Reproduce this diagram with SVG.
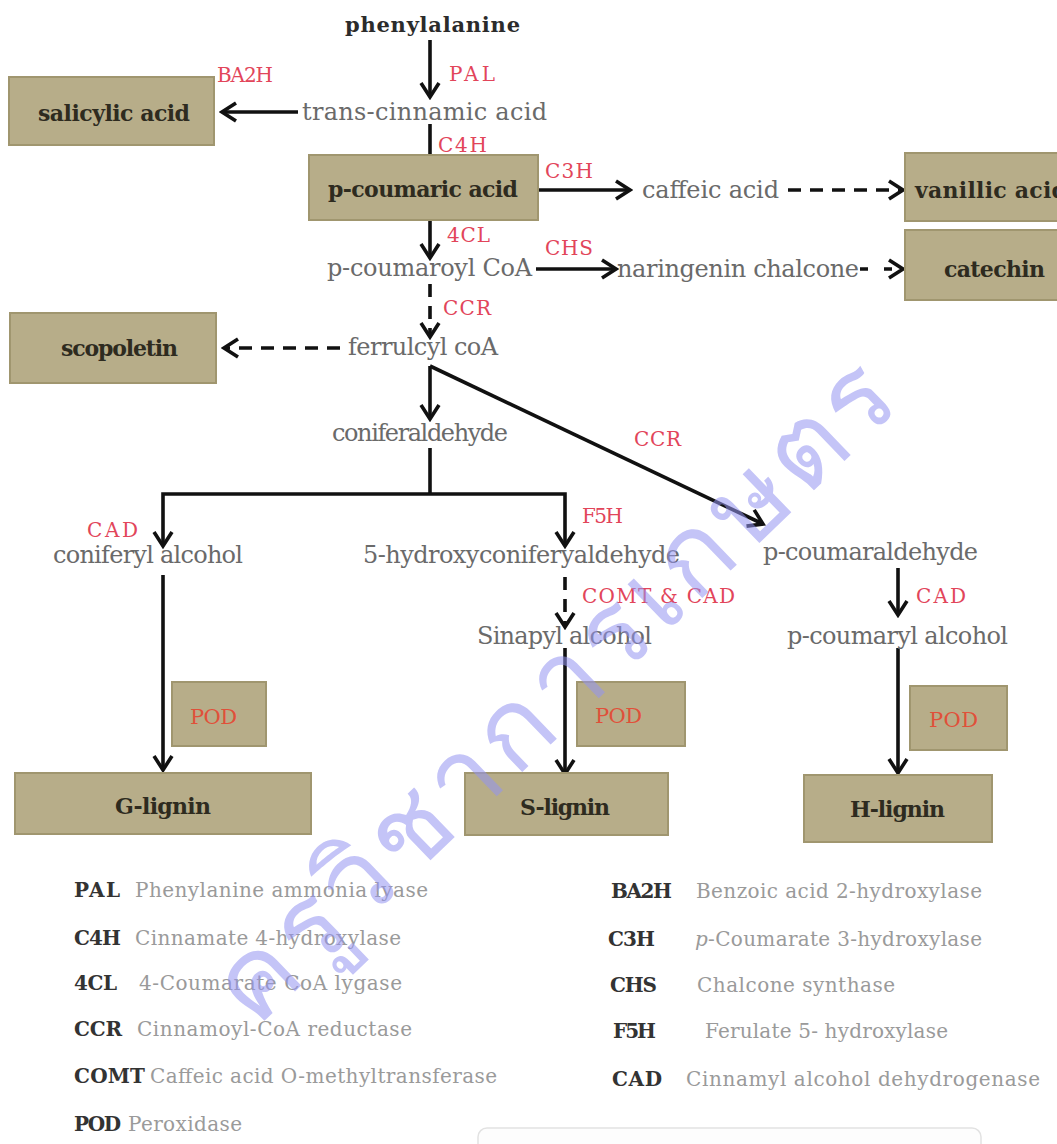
<svg xmlns="http://www.w3.org/2000/svg" width="1057" height="1144" viewBox="0 0 1057 1144">
<defs>
<style>
text{font-family:"DejaVu Serif","Liberation Serif",serif}
.box{fill:#b7ad89;stroke:#a0966f;stroke-width:2}
.bl{font-size:22px;font-weight:bold;fill:#2e2b1f}
.met{font-size:24px;fill:#6a6a6a}
.top{font-size:21px;font-weight:bold;fill:#2b2b2b}
.enz{font-size:20px;fill:#e2455a}
.pod{font-size:21px;fill:#e0503a}
.la{font-size:20px;font-weight:bold;fill:#333}
.ld{font-size:20px;fill:#9a9a9a}
.ln{stroke:#111;stroke-width:3.6;fill:none}
.ar{marker-end:url(#ah)}
.da{stroke-dasharray:13 9}
</style>
<marker id="ah" viewBox="0 0 20 22" refX="17" refY="11" markerWidth="20" markerHeight="22" markerUnits="userSpaceOnUse" orient="auto">
<path d="M3,2 L17,11 L3,20" fill="none" stroke="#111" stroke-width="3.6"/>
</marker>
</defs>
<rect width="1057" height="1144" fill="#fff"/>

<g id="connectors">
<line class="ln ar" x1="430" y1="40" x2="430" y2="97"/>
<line class="ln ar" x1="298" y1="112" x2="222" y2="112"/>
<line class="ln ar" x1="430" y1="124" x2="430" y2="174"/>
<line class="ln ar" x1="522" y1="190" x2="630" y2="190"/>
<line class="ln ar da" x1="788" y1="190" x2="903" y2="190"/>
<line class="ln ar" x1="430" y1="220" x2="430" y2="258"/>
<line class="ln ar" x1="536" y1="269" x2="616" y2="269"/>
<line class="ln ar" x1="860" y1="269" x2="903" y2="269" style="stroke-dasharray:8 16"/>
<line class="ln ar da" x1="430" y1="284" x2="430" y2="337"/>
<line class="ln ar da" x1="340" y1="348" x2="224" y2="348"/>
<line class="ln ar" x1="430" y1="366" x2="430" y2="419"/>
<line class="ln ar" x1="430" y1="366" x2="763" y2="524"/>
<polyline class="ln" points="430,448 430,494"/>
<polyline class="ln ar" points="430,494 163,494 163,546"/>
<polyline class="ln ar" points="430,494 565,494 565,546"/>
<line class="ln ar da" x1="565" y1="577" x2="565" y2="627"/>
<line class="ln ar" x1="898" y1="568" x2="898" y2="615"/>
<line class="ln ar" x1="163" y1="575" x2="163" y2="770"/>
<line class="ln ar" x1="565" y1="648" x2="565" y2="774"/>
<line class="ln ar" x1="898" y1="648" x2="898" y2="773"/>
</g>

<g id="n-phenylalanine"><text class="top" x="345" y="32" textLength="175">phenylalanine</text></g>
<g id="e-pal"><text class="enz" x="449" y="81" textLength="46">PAL</text></g>
<g id="n-trans-cinnamic"><text class="met" x="302" y="120" textLength="245">trans-cinnamic acid</text></g>
<g id="e-ba2h"><text class="enz" x="217" y="82" textLength="56">BA2H</text></g>
<g id="n-salicylic"><rect class="box" x="9" y="77" width="205" height="68"/><text class="bl" x="38" y="121" textLength="152">salicylic acid</text></g>
<g id="e-c4h"><text class="enz" x="438" y="152" textLength="49">C4H</text></g>
<g id="n-p-coumaric"><rect class="box" x="309" y="155" width="229" height="65"/><text class="bl" x="328" y="197" textLength="190">p-coumaric acid</text></g>
<g id="e-c3h"><text class="enz" x="545" y="178" textLength="48">C3H</text></g>
<g id="n-caffeic"><text class="met" x="642" y="198" textLength="137">caffeic acid</text></g>
<g id="n-vanillic"><rect class="box" x="905" y="153" width="170" height="68"/><text class="bl" x="915" y="198" textLength="152">vanillic acid</text></g>
<g id="e-4cl"><text class="enz" x="447" y="242" textLength="43">4CL</text></g>
<g id="n-p-coumaroyl"><text class="met" x="327" y="276" textLength="205">p-coumaroyl CoA</text></g>
<g id="e-chs"><text class="enz" x="545" y="255" textLength="48">CHS</text></g>
<g id="n-naringenin"><text class="met" x="617" y="277" textLength="242">naringenin chalcone</text></g>
<g id="n-catechin"><rect class="box" x="905" y="230" width="170" height="70"/><text class="bl" x="944" y="277" textLength="101">catechin</text></g>
<g id="e-ccr1"><text class="enz" x="443" y="315" textLength="48">CCR</text></g>
<g id="n-scopoletin"><rect class="box" x="10" y="313" width="206" height="70"/><text class="bl" x="61" y="356" textLength="117">scopoletin</text></g>
<g id="n-ferrulcyl"><text class="met" x="348" y="355" textLength="150">ferrulcyl coA</text></g>
<g id="n-coniferaldehyde"><text class="met" x="332" y="441" textLength="176">coniferaldehyde</text></g>
<g id="e-ccr2"><text class="enz" x="634" y="446" textLength="47">CCR</text></g>
<g id="e-cad1"><text class="enz" x="87" y="537" textLength="51">CAD</text></g>
<g id="n-coniferyl-alcohol"><text class="met" x="53" y="563" textLength="190">coniferyl alcohol</text></g>
<g id="e-f5h"><text class="enz" x="582" y="523" textLength="41">F5H</text></g>
<g id="n-5-hydroxy"><text class="met" x="363" y="563" textLength="317">5-hydroxyconiferyaldehyde</text></g>
<g id="n-p-coumaraldehyde"><text class="met" x="763" y="560" textLength="215">p-coumaraldehyde</text></g>
<g id="e-comt-cad"><text class="enz" x="582" y="603" textLength="153">COMT &amp; CAD</text></g>
<g id="e-cad2"><text class="enz" x="916" y="603" textLength="50">CAD</text></g>
<g id="n-sinapyl"><text class="met" x="477" y="644" textLength="175">Sinapyl alcohol</text></g>
<g id="n-p-coumaryl"><text class="met" x="787" y="644" textLength="221">p-coumaryl alcohol</text></g>
<g id="pod1"><rect class="box" x="172" y="682" width="94" height="64"/><text class="pod" x="190" y="724" textLength="47">POD</text></g>
<g id="pod2"><rect class="box" x="577" y="682" width="108" height="64"/><text class="pod" x="595" y="723" textLength="47">POD</text></g>
<g id="pod3"><rect class="box" x="910" y="686" width="97" height="64"/><text class="pod" x="929" y="727" textLength="49">POD</text></g>
<g id="n-g-lignin"><rect class="box" x="15" y="773" width="296" height="61"/><text class="bl" x="115" y="814" textLength="96">G-lignin</text></g>
<g id="n-s-lignin"><rect class="box" x="465" y="773" width="203" height="62"/><text class="bl" x="520" y="815" textLength="90">S-lignin</text></g>
<g id="n-h-lignin"><rect class="box" x="804" y="775" width="188" height="67"/><text class="bl" x="850" y="817" textLength="95">H-lignin</text></g>

<g id="legend">
<text class="la" x="74" y="897" textLength="46">PAL</text><text class="ld" x="135" y="897" textLength="293">Phenylanine ammonia lyase</text>
<text class="la" x="74" y="945" textLength="47">C4H</text><text class="ld" x="135" y="945" textLength="266">Cinnamate 4-hydroxylase</text>
<text class="la" x="74" y="990" textLength="43">4CL</text><text class="ld" x="139" y="990" textLength="263">4-Coumarate CoA lygase</text>
<text class="la" x="74" y="1036" textLength="48">CCR</text><text class="ld" x="137" y="1036" textLength="275">Cinnamoyl-CoA reductase</text>
<text class="la" x="74" y="1083" textLength="71">COMT</text><text class="ld" x="150" y="1083" textLength="347">Caffeic acid O-methyltransferase</text>
<text class="la" x="74" y="1131" textLength="47">POD</text><text class="ld" x="128" y="1131" textLength="114">Peroxidase</text>
<text class="la" x="611" y="898" textLength="61">BA2H</text><text class="ld" x="696" y="898" textLength="286">Benzoic acid 2-hydroxylase</text>
<text class="la" x="608" y="946" textLength="47">C3H</text><text class="ld" x="695" y="946" textLength="287"><tspan font-style="italic">p</tspan>-Coumarate 3-hydroxylase</text>
<text class="la" x="610" y="992" textLength="47">CHS</text><text class="ld" x="697" y="992" textLength="198">Chalcone synthase</text>
<text class="la" x="613" y="1038" textLength="43">F5H</text><text class="ld" x="705" y="1038" textLength="243">Ferulate 5- hydroxylase</text>
<text class="la" x="612" y="1086" textLength="50">CAD</text><text class="ld" x="686" y="1086" textLength="354">Cinnamyl alcohol dehydrogenase</text>
</g>
<rect x="478" y="1128" width="503" height="40" rx="9" fill="#fdfdfd" stroke="#e2e2e2" stroke-width="1.5"/>
<g id="watermark" opacity="0.55"><text x="0" y="0" transform="translate(255,1030) rotate(-44)" font-family="'Noto Sans','DejaVu Sans',sans-serif" font-size="110" fill="#9494f2" textLength="900">ครูวิชาการเกษตร</text></g>
</svg>
